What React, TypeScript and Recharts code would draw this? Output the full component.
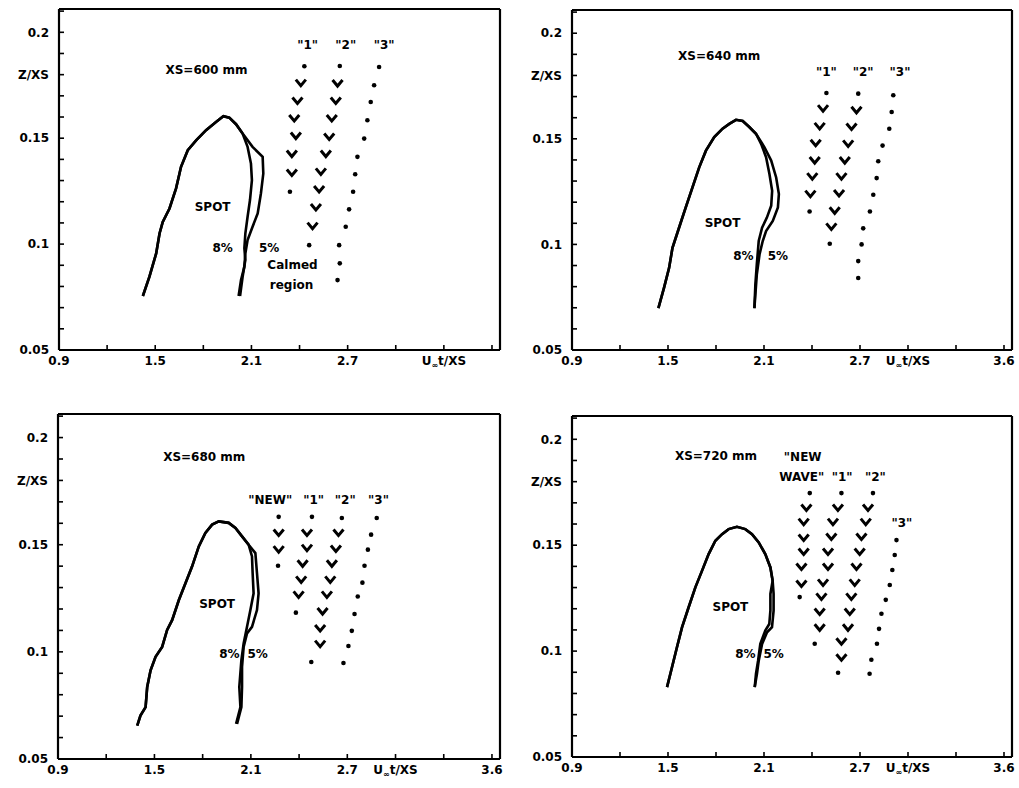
import React from 'react';
import { ComposedChart, Line, Scatter, XAxis, YAxis } from 'recharts';

type P = [number, number];

// XS = 600 mm : spot contour (shared leading edge + trailing edges of the 8% and 5% contours)
const leg600: P[] = [
  [1.423, 0.0755], [1.464, 0.0846], [1.506, 0.0956], [1.527, 0.105], [1.547, 0.1105],
  [1.589, 0.1168], [1.63, 0.1263], [1.661, 0.1365], [1.703, 0.1443], [1.755, 0.149],
  [1.817, 0.1538], [1.879, 0.1577], [1.925, 0.1604], [1.962, 0.1597], [2.004, 0.1566],
  [2.045, 0.1522],
];
const edge5_600: P[] = [
  [2.107, 0.1459], [2.17, 0.1412], [2.174, 0.1333], [2.159, 0.1239], [2.139, 0.1145],
  [2.107, 0.1082], [2.076, 0.1019], [2.062, 0.0956], [2.056, 0.0893], [2.035, 0.083], [2.02, 0.0755],
];
const edge8_600: P[] = [
  [2.076, 0.1459], [2.097, 0.138], [2.103, 0.1302], [2.091, 0.1208], [2.076, 0.1129],
  [2.062, 0.105], [2.056, 0.098], [2.062, 0.0925], [2.045, 0.0846], [2.029, 0.0755],
];
const wave1_600: P[] = [
  [2.43, 0.184], [2.408, 0.176], [2.387, 0.1676], [2.367, 0.1593], [2.377, 0.151],
  [2.352, 0.1425], [2.352, 0.1336], [2.34, 0.1247],
];
const wave2_600: P[] = [
  [2.651, 0.1841], [2.637, 0.1758], [2.626, 0.1676], [2.601, 0.1593], [2.585, 0.1506],
  [2.564, 0.1425], [2.533, 0.1341], [2.522, 0.1258], [2.502, 0.1173], [2.481, 0.1085], [2.46, 0.0995],
];
const wave3_600: P[] = [
  [2.896, 0.1836], [2.865, 0.175], [2.844, 0.1671], [2.823, 0.1585], [2.803, 0.1498],
  [2.761, 0.1412], [2.747, 0.133], [2.734, 0.1247], [2.709, 0.1164], [2.688, 0.1082],
  [2.647, 0.0995], [2.651, 0.0909], [2.637, 0.083],
];

// XS = 640 mm
const leg640: P[] = [
  [1.44, 0.0698], [1.475, 0.0794], [1.507, 0.0889], [1.528, 0.0984], [1.569, 0.1079],
  [1.611, 0.1175], [1.653, 0.127], [1.695, 0.1365], [1.737, 0.1444], [1.789, 0.1508],
  [1.841, 0.1548], [1.883, 0.1571], [1.925, 0.159], [1.967, 0.1584], [2.008, 0.1556],
  [2.05, 0.1524],
];
const edge5_640: P[] = [
  [2.103, 0.146], [2.145, 0.1397], [2.176, 0.1317], [2.193, 0.1238], [2.187, 0.1175],
  [2.155, 0.1111], [2.113, 0.1063], [2.092, 0.1016], [2.072, 0.0952], [2.055, 0.0857], [2.04, 0.0698],
];
const edge8_640: P[] = [
  [2.082, 0.1476], [2.113, 0.1413], [2.134, 0.1333], [2.151, 0.1254], [2.145, 0.1183],
  [2.118, 0.1127], [2.088, 0.1079], [2.067, 0.1016], [2.055, 0.0905], [2.046, 0.081], [2.04, 0.0698],
];
const wave1_640: P[] = [
  [2.49, 0.1717], [2.469, 0.1643], [2.448, 0.1559], [2.423, 0.1479], [2.417, 0.1397],
  [2.402, 0.1321], [2.39, 0.1238], [2.385, 0.1156],
];
const wave2_640: P[] = [
  [2.689, 0.1714], [2.678, 0.1635], [2.647, 0.1556], [2.626, 0.1476], [2.605, 0.1397],
  [2.584, 0.1321], [2.569, 0.1241], [2.542, 0.1159], [2.521, 0.1083], [2.511, 0.1003],
];
const wave3_640: P[] = [
  [2.908, 0.1706], [2.898, 0.1627], [2.883, 0.1548], [2.841, 0.1468], [2.814, 0.1394],
  [2.804, 0.1314], [2.783, 0.1235], [2.762, 0.1156], [2.72, 0.1076], [2.71, 0.1],
  [2.689, 0.0921], [2.689, 0.0841],
];

// XS = 680 mm
const leg680: P[] = [
  [1.393, 0.0656], [1.413, 0.0703], [1.445, 0.0742], [1.455, 0.0836], [1.476, 0.0914],
  [1.507, 0.0977], [1.548, 0.1023], [1.579, 0.1102], [1.61, 0.1148], [1.652, 0.1242],
  [1.693, 0.132], [1.734, 0.1398], [1.776, 0.1492], [1.817, 0.1555], [1.859, 0.1594],
  [1.9, 0.1609], [1.962, 0.1602], [2.004, 0.1578], [2.045, 0.1539], [2.086, 0.15],
];
const edge5_680: P[] = [
  [2.128, 0.1461], [2.138, 0.1367], [2.148, 0.1273], [2.138, 0.1195], [2.107, 0.1117],
  [2.076, 0.1086], [2.055, 0.1023], [2.045, 0.093], [2.045, 0.0836], [2.041, 0.0742], [2.014, 0.0664],
];
const edge8_680: P[] = [
  [2.107, 0.1445], [2.111, 0.1367], [2.117, 0.1273], [2.097, 0.1195], [2.076, 0.1117],
  [2.055, 0.1039], [2.041, 0.0961], [2.028, 0.0836], [2.035, 0.0742], [2.008, 0.0664],
];
const waveNew_680: P[] = [[2.273, 0.163], [2.273, 0.1555], [2.273, 0.1477], [2.269, 0.1402]];
const wave1_680: P[] = [
  [2.48, 0.163], [2.449, 0.1555], [2.449, 0.1484], [2.422, 0.1411], [2.413, 0.1336],
  [2.397, 0.1266], [2.38, 0.1183],
];
const wave2_680: P[] = [
  [2.666, 0.1625], [2.645, 0.1555], [2.629, 0.148], [2.604, 0.1411], [2.594, 0.1336],
  [2.573, 0.1266], [2.546, 0.1188], [2.531, 0.1109], [2.531, 0.1036], [2.476, 0.0953],
];
const wave3_680: P[] = [
  [2.883, 0.1625], [2.848, 0.1547], [2.828, 0.1477], [2.807, 0.1402], [2.794, 0.1323],
  [2.765, 0.1258], [2.745, 0.1177], [2.728, 0.1098], [2.707, 0.1027], [2.676, 0.0948],
];

// XS = 720 mm
const leg720: P[] = [
  [1.494, 0.083], [1.525, 0.0924], [1.556, 0.1018], [1.588, 0.1113], [1.629, 0.1207],
  [1.671, 0.1301], [1.713, 0.138], [1.754, 0.1458], [1.796, 0.1521], [1.838, 0.1552],
  [1.879, 0.1576], [1.931, 0.1587], [1.983, 0.1576], [2.025, 0.1552], [2.067, 0.1513],
  [2.108, 0.1458], [2.14, 0.1395], [2.154, 0.1332],
];
const edge5_720: P[] = [
  [2.16, 0.127], [2.16, 0.1191], [2.15, 0.1113], [2.119, 0.1089], [2.088, 0.1034],
  [2.067, 0.0955], [2.056, 0.0893], [2.042, 0.083],
];
const edge8_720: P[] = [
  [2.14, 0.127], [2.14, 0.1191], [2.133, 0.1128], [2.108, 0.1097], [2.077, 0.1034],
  [2.063, 0.0955], [2.05, 0.0893], [2.042, 0.083],
];
const waveNew_720: P[] = [
  [2.386, 0.1746], [2.365, 0.1676], [2.348, 0.1609], [2.348, 0.1534], [2.348, 0.1468],
  [2.334, 0.1397], [2.334, 0.1317], [2.323, 0.1255],
];
const wave1_720: P[] = [
  [2.584, 0.1746], [2.562, 0.1676], [2.531, 0.1609], [2.521, 0.1539], [2.5, 0.1468],
  [2.5, 0.1397], [2.469, 0.1322], [2.459, 0.1256], [2.448, 0.1185], [2.448, 0.111], [2.417, 0.1035],
];
const wave2_720: P[] = [
  [2.781, 0.1746], [2.75, 0.1676], [2.736, 0.1609], [2.709, 0.1539], [2.698, 0.1468],
  [2.678, 0.1397], [2.667, 0.1322], [2.646, 0.1256], [2.636, 0.1185], [2.625, 0.111],
  [2.584, 0.1044], [2.584, 0.0969], [2.563, 0.0898],
];
const wave3_720: P[] = [
  [2.928, 0.1524], [2.917, 0.1454], [2.902, 0.1383], [2.886, 0.1312], [2.861, 0.1242],
  [2.834, 0.1176], [2.819, 0.1105], [2.806, 0.1035], [2.771, 0.0959], [2.76, 0.0893],
];

// axes
const xTicks = [0.9, 1.2, 1.5, 1.8, 2.1, 2.4, 2.7, 3.0, 3.3, 3.6];
const xLabels = [0.9, 1.5, 2.1, 2.7];
const yTicks = [0.05, 0.06, 0.07, 0.08, 0.09, 0.1, 0.11, 0.12, 0.13, 0.14, 0.15, 0.16, 0.17, 0.18, 0.19, 0.2, 0.21];
const yLabels: Record<string, string> = { '0.05': '0.05', '0.10': '0.1', '0.15': '0.15', '0.18': 'Z/XS', '0.20': '0.2' };

type Note = { x: number; y: number; t: string };
type Wave = { pts: P[]; plain?: boolean };
type Cfg = {
  left: number; top: number;
  margin: { top: number; right: number; bottom: number; left: number };
  leg: P[]; e5: P[]; e8: P[];
  waves: Wave[]; notes: Note[];
  uAt: number; showEnd: boolean;
};

const panels: Cfg[] = [
  {
    left: 0, top: 0, margin: { top: 8, right: 9, bottom: 20, left: 9 },
    leg: leg600, e5: edge5_600, e8: edge8_600,
    waves: [{ pts: wave1_600 }, { pts: wave2_600 }, { pts: wave3_600, plain: true }],
    notes: [
      { x: 1.82, y: 0.182, t: 'XS=600 mm' }, { x: 2.45, y: 0.194, t: '"1"' },
      { x: 2.688, y: 0.194, t: '"2"' }, { x: 2.927, y: 0.194, t: '"3"' },
      { x: 1.858, y: 0.1173, t: 'SPOT' }, { x: 1.92, y: 0.098, t: '8%' },
      { x: 2.21, y: 0.098, t: '5%' }, { x: 2.356, y: 0.09, t: 'Calmed' },
      { x: 2.35, y: 0.0807, t: 'region' },
    ],
    uAt: 3.3, showEnd: false,
  },
  {
    left: 509, top: 0, margin: { top: 9, right: 6, bottom: 20, left: 13 },
    leg: leg640, e5: edge5_640, e8: edge8_640,
    waves: [{ pts: wave1_640 }, { pts: wave2_640 }, { pts: wave3_640, plain: true }],
    notes: [
      { x: 1.82, y: 0.189, t: 'XS=640 mm' }, { x: 2.49, y: 0.1817, t: '"1"' },
      { x: 2.72, y: 0.1817, t: '"2"' }, { x: 2.95, y: 0.1817, t: '"3"' },
      { x: 1.841, y: 0.11, t: 'SPOT' }, { x: 1.971, y: 0.0944, t: '8%' },
      { x: 2.187, y: 0.0944, t: '5%' },
    ],
    uAt: 3.0, showEnd: true,
  },
  {
    left: 0, top: 394, margin: { top: 19, right: 9, bottom: 5, left: 8 },
    leg: leg680, e5: edge5_680, e8: edge8_680,
    waves: [{ pts: waveNew_680 }, { pts: wave1_680 }, { pts: wave2_680 }, { pts: wave3_680, plain: true }],
    notes: [
      { x: 1.81, y: 0.191, t: 'XS=680 mm' }, { x: 2.221, y: 0.171, t: '"NEW"' },
      { x: 2.49, y: 0.171, t: '"1"' }, { x: 2.687, y: 0.171, t: '"2"' },
      { x: 2.894, y: 0.171, t: '"3"' }, { x: 1.89, y: 0.1223, t: 'SPOT' },
      { x: 1.966, y: 0.0992, t: '8%' }, { x: 2.142, y: 0.0992, t: '5%' },
    ],
    uAt: 3.0, showEnd: true,
  },
  {
    left: 509, top: 394, margin: { top: 21, right: 6, bottom: 7, left: 13 },
    leg: leg720, e5: edge5_720, e8: edge8_720,
    waves: [{ pts: waveNew_720 }, { pts: wave1_720 }, { pts: wave2_720 }, { pts: wave3_720, plain: true }],
    notes: [
      { x: 1.8, y: 0.192, t: 'XS=720 mm' }, { x: 2.342, y: 0.1915, t: '"NEW' },
      { x: 2.336, y: 0.182, t: 'WAVE"' }, { x: 2.588, y: 0.182, t: '"1"' },
      { x: 2.796, y: 0.182, t: '"2"' }, { x: 2.962, y: 0.1607, t: '"3"' },
      { x: 1.89, y: 0.121, t: 'SPOT' }, { x: 1.984, y: 0.0987, t: '8%' },
      { x: 2.16, y: 0.0987, t: '5%' },
    ],
    uAt: 3.0, showEnd: true,
  },
];

const toPts = (a: P[]) => a.map(([x, y]) => ({ x, y }));

const axisLine = { stroke: '#000', strokeWidth: 2.2 };
const tickLine = { stroke: '#000', strokeWidth: 1.6 };

const Chevron = (p: any) => (
  <path
    d={`M${p.cx - 5},${p.cy - 3.5}L${p.cx},${p.cy + 2.5}L${p.cx + 5},${p.cy - 3.5}`}
    fill="none" stroke="#000" strokeWidth={3}
  />
);
const Dot = (p: any) => <circle cx={p.cx} cy={p.cy} r={2.3} fill="#000" />;
const NoteText = (p: any) => {
  const t = p.payload ? p.payload.t : p.t;
  return (
    <text x={p.cx} y={p.cy} textAnchor="middle" dominantBaseline="central" fontSize={12} fontWeight="bold" fill="#000">
      {t}
    </text>
  );
};

const makeXTick = (uAt: number, showEnd: boolean) => (p: any) => {
  const v = Math.round(Number(p.payload.value) * 10) / 10;
  let content: any = null;
  if (v === uAt) {
    content = (
      <>
        U<tspan fontSize={8} dy={3}>∞</tspan>
        <tspan dy={-3}>t/XS</tspan>
      </>
    );
  } else if (v === 3.6 && showEnd) content = '3.6';
  else if (xLabels.includes(v)) content = v.toFixed(1);
  if (!content) return <g />;
  return (
    <text x={p.x} y={p.y} dy={11} textAnchor="middle" fontSize={12} fontWeight="bold" fill="#000">
      {content}
    </text>
  );
};

function Panel({ cfg }: { cfg: Cfg }) {
  const chev: { x: number; y: number }[] = [];
  const dots: { x: number; y: number }[] = [];
  cfg.waves.forEach((w) =>
    w.pts.forEach(([x, y], i) => {
      if (w.plain || i === 0 || i === w.pts.length - 1) dots.push({ x, y });
      else chev.push({ x, y });
    })
  );
  const xDomain = [0.9, 3.65];
  const yDomain = [0.05, 0.211];
  return (
    <div style={{ position: 'absolute', left: cfg.left, top: cfg.top }}>
      <ComposedChart width={510} height={394} margin={cfg.margin}>
        <XAxis
          type="number" dataKey="x" domain={xDomain} ticks={xTicks} interval={0} allowDataOverflow
          height={24} tickSize={-5} tickMargin={9} axisLine={axisLine} tickLine={tickLine}
          tick={makeXTick(cfg.uAt, cfg.showEnd)}
        />
        <XAxis
          xAxisId="top" orientation="top" type="number" dataKey="x" domain={xDomain} ticks={xTicks}
          interval={0} allowDataOverflow height={1} tickSize={-5} tick={false} axisLine={axisLine} tickLine={tickLine}
        />
        <YAxis
          type="number" dataKey="y" domain={yDomain} ticks={yTicks} interval={0} allowDataOverflow
          width={50} tickSize={-5} tickMargin={15} axisLine={axisLine} tickLine={tickLine}
          tickFormatter={(v: number) => yLabels[v.toFixed(2)] ?? ''}
          tick={{ fill: '#000', fontSize: 12, fontWeight: 'bold' }}
        />
        <YAxis
          yAxisId="right" orientation="right" type="number" dataKey="y" domain={yDomain} ticks={yTicks}
          interval={0} allowDataOverflow width={1} tickSize={-5} tick={false} axisLine={axisLine} tickLine={tickLine}
        />
        <Line data={toPts([...cfg.leg, ...cfg.e5])} dataKey="y" type="linear" stroke="#000" strokeWidth={2.6} dot={false} isAnimationActive={false} />
        <Line data={toPts([...cfg.leg, ...cfg.e8])} dataKey="y" type="linear" stroke="#000" strokeWidth={2.6} dot={false} isAnimationActive={false} />
        <Scatter data={chev} shape={Chevron} isAnimationActive={false} />
        <Scatter data={dots} shape={Dot} isAnimationActive={false} />
        <Scatter data={cfg.notes} shape={NoteText} isAnimationActive={false} />
      </ComposedChart>
    </div>
  );
}

export default function App() {
  return (
    <div style={{ position: 'absolute', left: 0, top: 0, width: 1019, height: 788, background: '#fff', fontFamily: '"DejaVu Sans", sans-serif' }}>
      {panels.map((c, i) => (
        <Panel key={i} cfg={c} />
      ))}
    </div>
  );
}
